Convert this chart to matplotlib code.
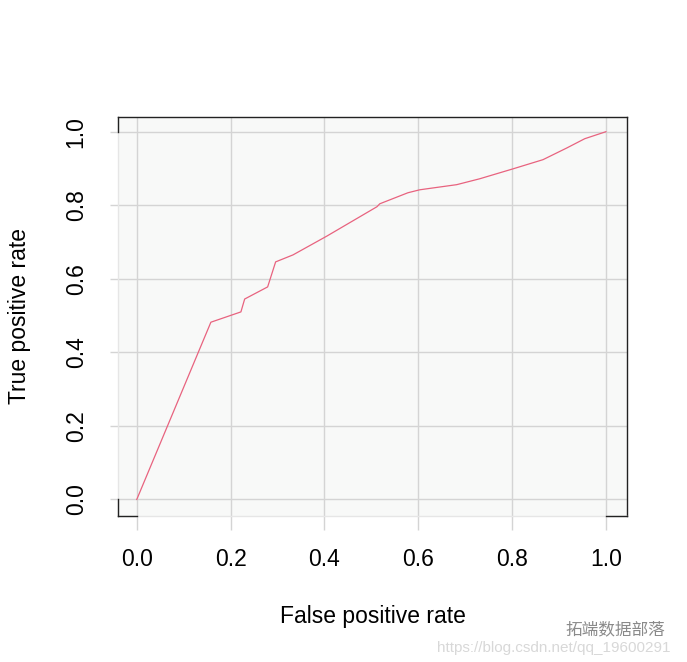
import matplotlib
matplotlib.use("Agg")
import matplotlib.pyplot as plt
import matplotlib.transforms as mtransforms

fpr = [0.0, 0.158, 0.222, 0.230, 0.279, 0.296, 0.333, 0.405, 0.512, 0.518,
       0.578, 0.603, 0.631, 0.682, 0.731, 0.802, 0.866, 0.917, 0.955, 1.0]
tpr = [0.0, 0.482, 0.510, 0.545, 0.578, 0.646, 0.665, 0.716, 0.796, 0.804,
       0.834, 0.842, 0.847, 0.856, 0.872, 0.899, 0.924, 0.956, 0.981, 1.0]
ticks = [0.0, 0.2, 0.4, 0.6, 0.8, 1.0]
tick_labels = ["0.0", "0.2", "0.4", "0.6", "0.8", "1.0"]

plt.rcParams['font.family'] = ['Liberation Sans', 'DejaVu Sans']

W, H = 687, 662
fig = plt.figure(figsize=(W / 100, H / 100), dpi=100)
ax = fig.add_axes([118 / W, 1 - 516 / H, (627 - 118) / W, (516 - 117) / H])
ax.set_facecolor('#f8f9f8')
ax.set_xlim(-0.04, 1.045)
ax.set_ylim(-0.045, 1.04)

grid_c = '#d4d4d4'
for t in ticks:
    ax.axvline(t, color=grid_c, lw=1.0, zorder=1)
    ax.axhline(t, color=grid_c, lw=1.0, zorder=1)

ax.plot(fpr, tpr, color='#e8637f', lw=0.9, zorder=3)

fs = 16.5
ax.set_xticks(ticks)
ax.set_xticklabels(tick_labels)
ax.set_yticks(ticks)
ax.set_yticklabels(tick_labels)
ax.tick_params(axis='x', length=10, width=1.0, color=grid_c, pad=13, labelsize=fs)
ax.tick_params(axis='y', length=5.8, width=1.0, color=grid_c, pad=16, labelsize=fs,
               labelrotation=90)
for lab in ax.get_yticklabels():
    lab.set_va('center')

for s in ['top', 'right']:
    ax.spines[s].set_color('#222222')
    ax.spines[s].set_linewidth(1.0)
for s in ['left', 'bottom']:
    ax.spines[s].set_color('#e6e6e6')
    ax.spines[s].set_linewidth(1.0)

# dark corner pieces of the frame
tl = mtransforms.blended_transform_factory(ax.transAxes, ax.transData)
tb = mtransforms.blended_transform_factory(ax.transData, ax.transAxes)
ax.plot([0, 0], [1.0, 1.04], color='#222222', lw=1.0, transform=tl, clip_on=False, zorder=5)
ax.plot([0, 0], [-0.045, 0.0], color='#222222', lw=1.0, transform=tl, clip_on=False, zorder=5)
ax.plot([-0.04, 0.0], [0, 0], color='#222222', lw=1.0, transform=tb, clip_on=False, zorder=5)
ax.plot([1.0, 1.045], [0, 0], color='#222222', lw=1.0, transform=tb, clip_on=False, zorder=5)

ax.set_xlabel('False positive rate', fontsize=fs)
ax.set_ylabel('True positive rate', fontsize=fs)
ax.xaxis.set_label_coords(0.5, -0.253)
ax.xaxis.label.set_va('center')
ax.yaxis.set_label_coords(-0.193, 0.5)
ax.yaxis.label.set_va('center')

fig.text(565 / W, 1 - 630 / H, '拓端数据部落', fontsize=12, color='#8a8a8a',
         family=['Noto Sans CJK SC', 'DejaVu Sans'], va='center', ha='left')
fig.text(437 / W, 1 - 648 / H, 'https://blog.csdn.net/qq_19600291', fontsize=11,
         color='#d8d8d8', va='center', ha='left')

fig.savefig('out.png', dpi=100)
